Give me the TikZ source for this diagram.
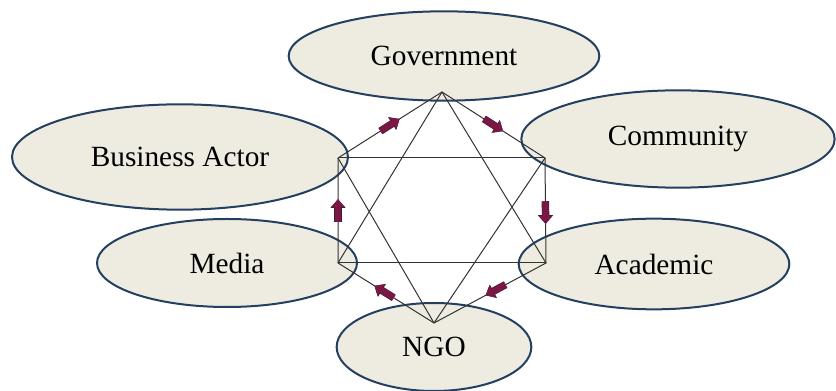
\documentclass[tikz,border=0pt]{standalone}
\usepackage{fontspec}
\setmainfont{Liberation Serif}
\usetikzlibrary{shapes.geometric,arrows.meta,calc}

\definecolor{bubblefill}{HTML}{EEECE1}
\definecolor{bubbleline}{HTML}{243F60}
\definecolor{flowred}{HTML}{7A1744}
\definecolor{flowedge}{HTML}{3A2030}

\tikzset{
  actor/.style={ellipse, draw=bubbleline, line width=1.5pt, fill=bubblefill, inner sep=0pt, font=\fontsize{22}{26}\selectfont},
  link/.style={draw=black!80, line width=0.75pt},
  flow/.style={draw=flowred, line width=4.8pt, -{Triangle[width=10pt,length=6pt]},
    preaction={draw=flowedge, line width=5.6pt, -{Triangle[width=11pt,length=6.6pt]}}}
}

\begin{document}
\begin{tikzpicture}[x=0.75pt,y=0.75pt,yscale=-1,xscale=1]
\useasboundingbox (0,0) rectangle (836,391);

% Ellipses
\node[actor, minimum width=233pt, minimum height=67pt] (gov) at (444,56) {Government};
\node[actor, minimum width=252pt, minimum height=79pt] (bus) at (180,157) {Business Actor};
\node[actor, minimum width=235pt, minimum height=73pt] (com) at (678,139) {Community};
\node[actor, minimum width=195pt, minimum height=66pt] (med) at (227,263) {Media};
\node[actor, minimum width=203pt, minimum height=68pt] (aca) at (654,264) {Academic};
\node[actor, minimum width=146pt, minimum height=66pt] (ngo) at (434,347) {NGO};

% Corners
\coordinate (ptop) at (442,92);
\coordinate (pbus) at (338,158);
\coordinate (pcom) at (545,158);
\coordinate (pmed) at (338,263);
\coordinate (paca) at (546,263);
\coordinate (pngo) at (434,323);

% Straight Lines
\draw[link] (pbus) -- (pcom);
\draw[link] (pmed) -- (paca);
\draw[link] (ptop) -- (pmed);
\draw[link] (ptop) -- (paca);
\draw[link] (pngo) -- (pbus);
\draw[link] (pngo) -- (pcom);
\draw[link] (pbus) -- (ptop) -- (pcom) -- (paca) -- (pngo) -- (pmed) -- cycle;

% Arrows
\draw[flow] ($(pbus)!0.5!(ptop)!-8.5pt!(ptop)$) -- ($(pbus)!0.5!(ptop)!8.5pt!(ptop)$);
\draw[flow] ($(ptop)!0.5!(pcom)!-8.5pt!(pcom)$) -- ($(ptop)!0.5!(pcom)!8.5pt!(pcom)$);
\draw[flow] ($(pcom)!0.52!(paca)!-8.5pt!(paca)$) -- ($(pcom)!0.52!(paca)!8.5pt!(paca)$);
\draw[flow] ($(paca)!0.45!(pngo)!-8.5pt!(pngo)$) -- ($(paca)!0.45!(pngo)!8.5pt!(pngo)$);
\draw[flow] ($(pngo)!0.52!(pmed)!-8.5pt!(pmed)$) -- ($(pngo)!0.52!(pmed)!8.5pt!(pmed)$);
\draw[flow] ($(pmed)!0.5!(pbus)!-8.5pt!(pbus)$) -- ($(pmed)!0.5!(pbus)!8.5pt!(pbus)$);

\end{tikzpicture}
\end{document}
